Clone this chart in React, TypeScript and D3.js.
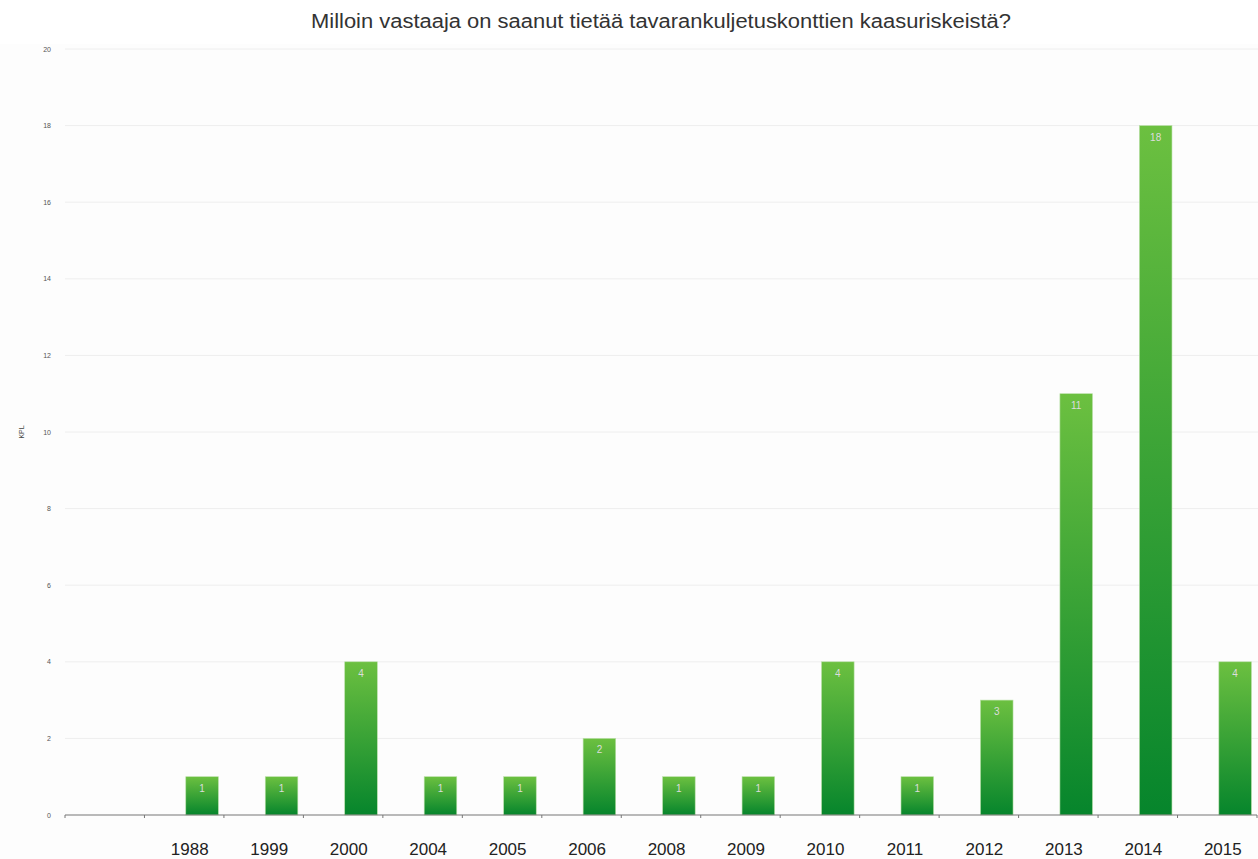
import React from "react";
import * as d3 from "d3";

const categories = ["", "1988", "1999", "2000", "2004", "2005", "2006", "2008", "2009", "2010", "2011", "2012", "2013", "2014", "2015"];
const values: (number | null)[] = [null, 1, 1, 4, 1, 1, 2, 1, 1, 4, 1, 3, 11, 18, 4];
const yTicks = [0, 2, 4, 6, 8, 10, 12, 14, 16, 18, 20];
const title = "Milloin vastaaja on saanut tietää tavarankuljetuskonttien kaasuriskeistä?";
const yLabel = "KPL";

const W = 1258;
const H = 859;
const left = 65;
const right = 1257;
const top = 49;
const bottom = 815;

export default function App() {
  const x = d3.scaleBand<string>().domain(categories.map((c, i) => String(i))).range([left, right]).padding(0);
  const y = d3.scaleLinear().domain([0, 20]).range([bottom, top]);
  const bw = x.bandwidth();
  const barOff = bw * 0.52;
  const barW = bw * 0.41;
  const font = "'Liberation Sans', Arial, Helvetica, sans-serif";
  return (
    <svg width={W} height={H} style={{ position: "absolute", left: 0, top: 0 }} fontFamily={font}>
      <defs>
        <linearGradient id="barGrad" x1="0" y1="0" x2="0" y2="1">
          <stop offset="0%" stopColor="#6cc040" />
          <stop offset="100%" stopColor="#06852c" />
        </linearGradient>
      </defs>
      <rect x={0} y={0} width={W} height={H} fill="#ffffff" />
      <rect x={0} y={44} width={W} height={H - 44} fill="#fdfdfd" />
      <text x={(left + right) / 2} y={28} textAnchor="middle" fontSize={19.5} fill="#333" textLength={700} lengthAdjust="spacingAndGlyphs">{title}</text>
      {yTicks.map((t) => (
        <g key={t}>
          {t > 0 && <line x1={left} x2={W} y1={y(t)} y2={y(t)} stroke="#eeeeee" strokeWidth={1} />}
          <text x={51} y={y(t) + 2.5} textAnchor="end" fontSize={7} fill="#555">{t}</text>
        </g>
      ))}
      <text transform={`translate(${24},${432}) rotate(-90)`} textAnchor="middle" fontSize={7} fill="#444">{yLabel}</text>
      {categories.map((c, i) => {
        const v = values[i];
        const x0 = x(String(i))!;
        return (
          <g key={i}>
            {v != null && (
              <>
                <rect x={x0 + barOff} y={y(v)} width={barW} height={bottom - y(v)} fill="url(#barGrad)" stroke="#b9e0a8" strokeWidth={0.6} />
                <text x={x0 + barOff + barW / 2} y={y(v) + 15} textAnchor="middle" fontSize={10} fill="#dcdcdc">{v}</text>
              </>
            )}
            {c && <text x={x0 + bw * 0.57} y={855} textAnchor="middle" fontSize={17} fill="#222">{c}</text>}
          </g>
        );
      })}
      <line x1={left} x2={right} y1={bottom} y2={bottom} stroke="#777" strokeWidth={1.2} />
      {categories.map((c, i) => (
        <line key={"t" + i} x1={x(String(i))!} x2={x(String(i))!} y1={bottom} y2={bottom + 3} stroke="#777" strokeWidth={1} />
      ))}
      <line x1={right} x2={right} y1={bottom} y2={bottom + 3} stroke="#777" strokeWidth={1} />
    </svg>
  );
}
